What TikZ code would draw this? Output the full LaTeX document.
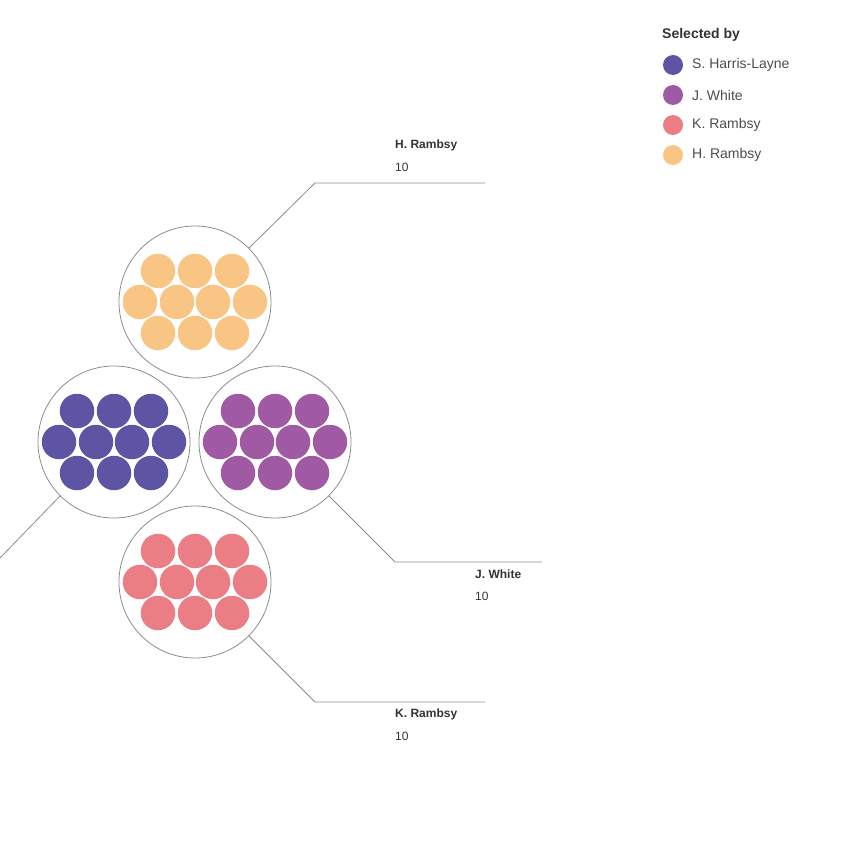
\documentclass[tikz,border=0pt]{standalone}
\usepackage{fontspec}
\setmainfont{Liberation Sans}
\definecolor{cA}{HTML}{5E54A4}
\definecolor{cB}{HTML}{A05AA4}
\definecolor{cC}{HTML}{EA7E84}
\definecolor{cD}{HTML}{F9C584}
\definecolor{txt}{HTML}{333333}
\begin{document}
\begin{tikzpicture}[x=1pt,y=-1pt,
  big/.style={draw=black!45,line width=0.8pt,fill=white,circle,minimum size=152pt,inner sep=0pt},
  dot/.style={circle,minimum size=34.5pt,inner sep=0pt},
  lead/.style={draw=black!45,line width=0.8pt},
  lbl/.style={anchor=west,inner sep=0pt,font=\fontsize{12}{14}\selectfont,text=txt}]
\useasboundingbox (0,0) rectangle (850,850);
\newcommand{\cluster}[4]{%
  \node[big] (#4) at (#1,#2) {};
  \foreach \dx in {-37,0,37}{\node[dot,fill=#3] at (#1+\dx,#2-31) {};\node[dot,fill=#3] at (#1+\dx,#2+31) {};}
  \foreach \dx in {-55,-18,18,55}{\node[dot,fill=#3] at (#1+\dx,#2) {};}
}
\cluster{195}{302}{cD}{top}
\cluster{114}{442}{cA}{left}
\cluster{275}{442}{cB}{right}
\cluster{195}{582}{cC}{bot}
\coordinate (t1) at (315,183); \coordinate (t2) at (485,183);
\coordinate (r1) at (395,562); \coordinate (r2) at (542,562);
\coordinate (b1) at (315,702); \coordinate (b2) at (485,702);
\coordinate (l1) at (0,558);
\draw[lead] (top.45) -- (t1) -- (t2);
\draw[lead] (right.-45) -- (r1) -- (r2);
\draw[lead] (bot.-45) -- (b1) -- (b2);
\draw[lead] (left.-135) -- (l1);
\node[lbl,font=\fontsize{12}{14}\selectfont\bfseries] (tn) at (395,145) {H. Rambsy};
\node[lbl] (tv) at (395,167) {10};
\node[lbl,font=\fontsize{12}{14}\selectfont\bfseries] (rn) at (475,574) {J. White};
\node[lbl] (rv) at (475,596) {10};
\node[lbl,font=\fontsize{12}{14}\selectfont\bfseries] (bn) at (395,714) {K. Rambsy};
\node[lbl] (bv) at (395,736) {10};
\node[lbl,font=\fontsize{14}{16}\selectfont\bfseries] (lt) at (662,35) {Selected by};
\foreach \y/\c/\t [count=\i] in {65/cA/S. Harris-Layne,95/cB/J. White,125/cC/K. Rambsy,155/cD/H. Rambsy}{
  \node[circle,fill=\c,minimum size=20pt,inner sep=0pt] (ld\i) at (673,\y) {};
  \node[lbl,font=\fontsize{14}{16}\selectfont,text=black!70] (lt\i) at (692,\y) {\t};
}
\end{tikzpicture}
\end{document}
